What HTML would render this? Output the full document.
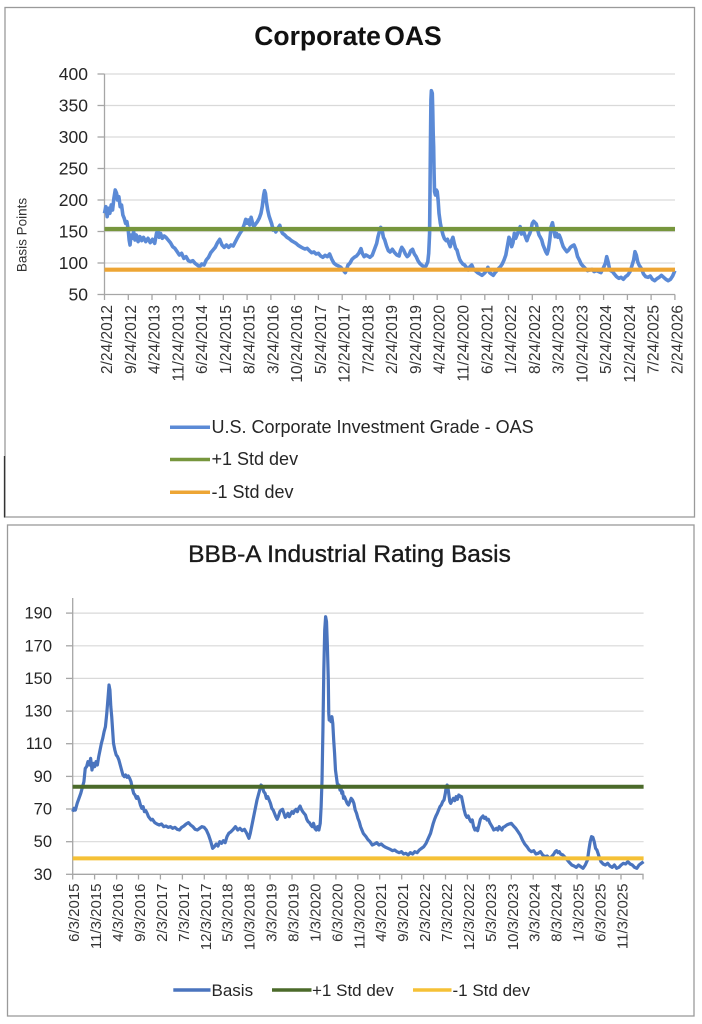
<!DOCTYPE html>
<html>
<head>
<meta charset="utf-8">
<style>
html,body{margin:0;padding:0;background:#fff;}
svg{display:block;}
text{font-family:"Liberation Sans",Arial,sans-serif;}
</style>
</head>
<body>
<svg width="702" height="1024" viewBox="0 0 702 1024" xmlns="http://www.w3.org/2000/svg">
<rect width="702" height="1024" fill="#fff"/>

<!-- ============ CHART 1 ============ -->
<rect x="5" y="7.5" width="689.5" height="509.5" fill="#fff" stroke="#9a9a9a" stroke-width="1.3"/>
<line x1="4.5" y1="456" x2="4.5" y2="517.5" stroke="#333" stroke-width="1.3"/>

<text x="348" y="45" text-anchor="middle" font-size="26.5" font-weight="bold" fill="#111" word-spacing="-4">Corporate OAS</text>

<!-- gridlines -->
<g stroke="#d9d9d9" stroke-width="1.2">
<line x1="104.5" y1="74" x2="675" y2="74"/>
<line x1="104.5" y1="105.5" x2="675" y2="105.5"/>
<line x1="104.5" y1="137" x2="675" y2="137"/>
<line x1="104.5" y1="168.5" x2="675" y2="168.5"/>
<line x1="104.5" y1="200" x2="675" y2="200"/>
<line x1="104.5" y1="231.5" x2="675" y2="231.5"/>
<line x1="104.5" y1="263" x2="675" y2="263"/>
</g>
<!-- axes -->
<g stroke="#a6a6a6" stroke-width="1.3">
<line x1="104.5" y1="74" x2="104.5" y2="294.5"/>
<line x1="104.5" y1="294.5" x2="675" y2="294.5"/>
<line x1="97.5" y1="74" x2="104.5" y2="74"/>
<line x1="97.5" y1="105.5" x2="104.5" y2="105.5"/>
<line x1="97.5" y1="137" x2="104.5" y2="137"/>
<line x1="97.5" y1="168.5" x2="104.5" y2="168.5"/>
<line x1="97.5" y1="200" x2="104.5" y2="200"/>
<line x1="97.5" y1="231.5" x2="104.5" y2="231.5"/>
<line x1="97.5" y1="263" x2="104.5" y2="263"/>
<line x1="97.5" y1="294.5" x2="104.5" y2="294.5"/>
<line x1="104.5" y1="294.5" x2="104.5" y2="300"/>
<line x1="128.3" y1="294.5" x2="128.3" y2="300"/>
<line x1="152.0" y1="294.5" x2="152.0" y2="300"/>
<line x1="175.8" y1="294.5" x2="175.8" y2="300"/>
<line x1="199.6" y1="294.5" x2="199.6" y2="300"/>
<line x1="223.3" y1="294.5" x2="223.3" y2="300"/>
<line x1="247.1" y1="294.5" x2="247.1" y2="300"/>
<line x1="270.9" y1="294.5" x2="270.9" y2="300"/>
<line x1="294.6" y1="294.5" x2="294.6" y2="300"/>
<line x1="318.4" y1="294.5" x2="318.4" y2="300"/>
<line x1="342.2" y1="294.5" x2="342.2" y2="300"/>
<line x1="365.9" y1="294.5" x2="365.9" y2="300"/>
<line x1="389.7" y1="294.5" x2="389.7" y2="300"/>
<line x1="413.5" y1="294.5" x2="413.5" y2="300"/>
<line x1="437.2" y1="294.5" x2="437.2" y2="300"/>
<line x1="461.0" y1="294.5" x2="461.0" y2="300"/>
<line x1="484.8" y1="294.5" x2="484.8" y2="300"/>
<line x1="508.5" y1="294.5" x2="508.5" y2="300"/>
<line x1="532.3" y1="294.5" x2="532.3" y2="300"/>
<line x1="556.1" y1="294.5" x2="556.1" y2="300"/>
<line x1="579.8" y1="294.5" x2="579.8" y2="300"/>
<line x1="603.6" y1="294.5" x2="603.6" y2="300"/>
<line x1="627.4" y1="294.5" x2="627.4" y2="300"/>
<line x1="651.1" y1="294.5" x2="651.1" y2="300"/>
<line x1="674.9" y1="294.5" x2="674.9" y2="300"/>
</g>

<!-- y labels -->
<g font-size="17.5" fill="#262626" text-anchor="end">
<text x="88" y="80">400</text>
<text x="88" y="111.5">350</text>
<text x="88" y="143">300</text>
<text x="88" y="174.5">250</text>
<text x="88" y="206">200</text>
<text x="88" y="237.5">150</text>
<text x="88" y="269">100</text>
<text x="88" y="300.5">50</text>
</g>
<text transform="translate(26.5,235) rotate(-90)" text-anchor="middle" font-size="13.5" fill="#333">Basis Points</text>

<!-- x labels -->
<g font-size="15.5" fill="#333" text-anchor="end">
<text transform="translate(112,305) rotate(-90)">2/24/2012</text>
<text transform="translate(135.8,305) rotate(-90)">9/24/2012</text>
<text transform="translate(159.5,305) rotate(-90)">4/24/2013</text>
<text transform="translate(183.3,305) rotate(-90)">11/24/2013</text>
<text transform="translate(207.1,305) rotate(-90)">6/24/2014</text>
<text transform="translate(230.8,305) rotate(-90)">1/24/2015</text>
<text transform="translate(254.6,305) rotate(-90)">8/24/2015</text>
<text transform="translate(278.4,305) rotate(-90)">3/24/2016</text>
<text transform="translate(302.1,305) rotate(-90)">10/24/2016</text>
<text transform="translate(325.9,305) rotate(-90)">5/24/2017</text>
<text transform="translate(349.7,305) rotate(-90)">12/24/2017</text>
<text transform="translate(373.4,305) rotate(-90)">7/24/2018</text>
<text transform="translate(397.2,305) rotate(-90)">2/24/2019</text>
<text transform="translate(421.0,305) rotate(-90)">9/24/2019</text>
<text transform="translate(444.7,305) rotate(-90)">4/24/2020</text>
<text transform="translate(468.5,305) rotate(-90)">11/24/2020</text>
<text transform="translate(492.3,305) rotate(-90)">6/24/2021</text>
<text transform="translate(516.0,305) rotate(-90)">1/24/2022</text>
<text transform="translate(539.8,305) rotate(-90)">8/24/2022</text>
<text transform="translate(563.6,305) rotate(-90)">3/24/2023</text>
<text transform="translate(587.3,305) rotate(-90)">10/24/2023</text>
<text transform="translate(611.1,305) rotate(-90)">5/24/2024</text>
<text transform="translate(634.9,305) rotate(-90)">12/24/2024</text>
<text transform="translate(658.6,305) rotate(-90)">7/24/2025</text>
<text transform="translate(682.4,305) rotate(-90)">2/24/2026</text>
</g>

<!-- series 1 -->
<g transform="scale(0.44843,0.33333)">
<polyline fill="none" stroke="#5b8ad6" stroke-width="3.6" vector-effect="non-scaling-stroke" stroke-linejoin="round" points="233,640 236,620 239,650 242,625 245,640 248,615 251,630 254,595 257,570 260,580 262,600 265,590 268,620 271,615 274,645 277,655 280,670 283,665 286,690 288,720 290,735 292,705 295,715 298,695 301,720 304,705 308,725 312,710 316,722 320,712 325,725 330,715 335,728 340,718 345,730 349,700 352,690 355,712 358,700 362,715 366,708 370,712 375,720 380,728 385,740 390,745 395,755 400,765 405,760 410,775 415,770 420,782 425,785 430,782 435,790 440,795 445,800 450,792 455,795 460,780 465,772 470,758 475,750 480,742 485,728 490,718 495,735 500,742 505,735 510,742 515,735 520,738 525,725 530,712 535,700 540,690 545,672 548,658 551,670 554,660 557,675 560,652 563,668 566,680 570,672 574,665 578,655 582,640 585,618 588,585 590,572 592,580 594,605 597,630 600,648 603,660 606,672 609,690 612,686 615,696 618,688 621,682 624,676 627,692 630,700 635,705 640,712 645,716 650,722 655,726 660,730 665,736 670,740 675,744 680,747 685,745 690,752 695,758 700,756 705,762 710,760 715,768 720,772 725,766 730,770 735,762 740,778 745,790 750,795 755,798 760,802 765,810 770,818 773,808 776,795 780,790 785,778 790,772 795,768 800,760 805,746 808,760 812,770 816,765 820,768 825,772 830,766 835,748 840,730 843,710 846,695 849,682 852,690 855,712 858,720 862,738 866,752 870,756 875,748 880,758 885,765 890,768 893,752 896,742 900,750 904,762 908,770 912,765 916,752 920,748 924,762 928,770 932,782 936,790 940,795 945,800 950,798 954,785 956,760 958,700 959,560 960,420 961,300 962,272 964,280 965,330 966,400 967,440 968,520 969,575 971,585 973,570 975,575 977,600 979,640 982,670 985,690 988,705 991,716 995,722 998,718 1001,730 1004,740 1007,722 1010,712 1013,730 1016,745 1019,750 1022,765 1025,778 1028,785 1032,792 1036,795 1040,802 1044,810 1048,800 1052,795 1056,808 1060,812 1065,818 1070,822 1075,826 1080,820 1085,812 1088,802 1092,818 1096,822 1100,826 1104,818 1108,812 1112,805 1116,800 1120,792 1124,780 1128,765 1132,735 1135,712 1138,720 1141,740 1144,728 1147,700 1150,715 1153,705 1157,690 1160,680 1163,702 1166,690 1169,700 1172,712 1175,722 1178,710 1181,702 1184,690 1187,670 1190,664 1193,668 1196,672 1199,690 1202,705 1205,712 1208,720 1211,735 1214,745 1217,755 1220,762 1223,748 1226,720 1229,680 1232,668 1235,690 1238,710 1241,700 1244,712 1247,705 1250,715 1253,728 1256,740 1260,748 1264,755 1268,750 1272,742 1276,738 1280,735 1284,748 1288,770 1292,780 1296,792 1300,798 1305,805 1310,812 1315,810 1320,808 1325,815 1330,812 1335,815 1340,818 1345,805 1350,790 1353,770 1356,785 1359,805 1362,812 1366,815 1370,822 1375,830 1380,835 1385,832 1390,838 1395,830 1400,825 1405,815 1409,798 1413,780 1416,755 1419,765 1422,785 1425,795 1430,805 1435,822 1440,830 1445,832 1450,828 1455,838 1460,842 1465,836 1470,832 1475,826 1480,832 1485,838 1490,842 1495,838 1500,828 1505,812"/>
</g>
<line x1="104.5" y1="229" x2="675" y2="229" stroke="#77963d" stroke-width="4.2"/>
<line x1="104.5" y1="269.7" x2="675" y2="269.7" stroke="#eda534" stroke-width="4.2"/>

<!-- legend 1 -->
<line x1="170" y1="427.3" x2="210" y2="427.3" stroke="#5b8ad6" stroke-width="3.5"/>
<line x1="170" y1="459.5" x2="210" y2="459.5" stroke="#77963d" stroke-width="3.5"/>
<line x1="170" y1="492.3" x2="210" y2="492.3" stroke="#eda534" stroke-width="3.5"/>
<g font-size="18" fill="#262626">
<text x="211.5" y="432.8">U.S. Corporate Investment Grade - OAS</text>
<text x="211.5" y="465">+1 Std dev</text>
<text x="211.5" y="497.8">-1 Std dev</text>
</g>

<!-- ============ CHART 2 ============ -->
<rect x="7.5" y="525" width="686.5" height="491" fill="#fff" stroke="#9a9a9a" stroke-width="1.3"/>

<text x="349.5" y="562" text-anchor="middle" font-size="24.5" fill="#1a1a1a" stroke="#1a1a1a" stroke-width="0.35">BBB-A Industrial Rating Basis</text>

<g stroke="#d9d9d9" stroke-width="1.2">
<line x1="72.7" y1="613.1" x2="643.6" y2="613.1"/>
<line x1="72.7" y1="645.8" x2="643.6" y2="645.8"/>
<line x1="72.7" y1="678.4" x2="643.6" y2="678.4"/>
<line x1="72.7" y1="711.1" x2="643.6" y2="711.1"/>
<line x1="72.7" y1="743.7" x2="643.6" y2="743.7"/>
<line x1="72.7" y1="776.4" x2="643.6" y2="776.4"/>
<line x1="72.7" y1="809.0" x2="643.6" y2="809.0"/>
<line x1="72.7" y1="841.7" x2="643.6" y2="841.7"/>
</g>
<g stroke="#a6a6a6" stroke-width="1.3">
<line x1="72.7" y1="598" x2="72.7" y2="874.3"/>
<line x1="72.7" y1="874.3" x2="643.6" y2="874.3"/>
<line x1="66" y1="613.1" x2="72.7" y2="613.1"/>
<line x1="66" y1="645.8" x2="72.7" y2="645.8"/>
<line x1="66" y1="678.4" x2="72.7" y2="678.4"/>
<line x1="66" y1="711.1" x2="72.7" y2="711.1"/>
<line x1="66" y1="743.7" x2="72.7" y2="743.7"/>
<line x1="66" y1="776.4" x2="72.7" y2="776.4"/>
<line x1="66" y1="809.0" x2="72.7" y2="809.0"/>
<line x1="66" y1="841.7" x2="72.7" y2="841.7"/>
<line x1="66" y1="874.3" x2="72.7" y2="874.3"/>
<line x1="72.7" y1="874.3" x2="72.7" y2="879.5"/>
<line x1="94.6" y1="874.3" x2="94.6" y2="879.5"/>
<line x1="116.6" y1="874.3" x2="116.6" y2="879.5"/>
<line x1="138.5" y1="874.3" x2="138.5" y2="879.5"/>
<line x1="160.4" y1="874.3" x2="160.4" y2="879.5"/>
<line x1="182.4" y1="874.3" x2="182.4" y2="879.5"/>
<line x1="204.3" y1="874.3" x2="204.3" y2="879.5"/>
<line x1="226.2" y1="874.3" x2="226.2" y2="879.5"/>
<line x1="248.1" y1="874.3" x2="248.1" y2="879.5"/>
<line x1="270.1" y1="874.3" x2="270.1" y2="879.5"/>
<line x1="292.0" y1="874.3" x2="292.0" y2="879.5"/>
<line x1="313.9" y1="874.3" x2="313.9" y2="879.5"/>
<line x1="335.9" y1="874.3" x2="335.9" y2="879.5"/>
<line x1="357.8" y1="874.3" x2="357.8" y2="879.5"/>
<line x1="379.7" y1="874.3" x2="379.7" y2="879.5"/>
<line x1="401.7" y1="874.3" x2="401.7" y2="879.5"/>
<line x1="423.6" y1="874.3" x2="423.6" y2="879.5"/>
<line x1="445.5" y1="874.3" x2="445.5" y2="879.5"/>
<line x1="467.4" y1="874.3" x2="467.4" y2="879.5"/>
<line x1="489.4" y1="874.3" x2="489.4" y2="879.5"/>
<line x1="511.3" y1="874.3" x2="511.3" y2="879.5"/>
<line x1="533.2" y1="874.3" x2="533.2" y2="879.5"/>
<line x1="555.2" y1="874.3" x2="555.2" y2="879.5"/>
<line x1="577.1" y1="874.3" x2="577.1" y2="879.5"/>
<line x1="599.0" y1="874.3" x2="599.0" y2="879.5"/>
<line x1="621.0" y1="874.3" x2="621.0" y2="879.5"/>
<line x1="643.0" y1="874.3" x2="643.0" y2="879.5"/>
</g>

<g font-size="16.5" fill="#262626" text-anchor="end">
<text x="52" y="618.6">190</text>
<text x="52" y="651.3">170</text>
<text x="52" y="683.9">150</text>
<text x="52" y="716.6">130</text>
<text x="52" y="749.2">110</text>
<text x="52" y="781.9">90</text>
<text x="52" y="814.5">70</text>
<text x="52" y="847.2">50</text>
<text x="52" y="879.8">30</text>
</g>

<g font-size="15" fill="#333" text-anchor="end">
<text transform="translate(79.2,883.5) rotate(-90)">6/3/2015</text>
<text transform="translate(101.1,883.5) rotate(-90)">11/3/2015</text>
<text transform="translate(123.1,883.5) rotate(-90)">4/3/2016</text>
<text transform="translate(145.0,883.5) rotate(-90)">9/3/2016</text>
<text transform="translate(166.9,883.5) rotate(-90)">2/3/2017</text>
<text transform="translate(188.9,883.5) rotate(-90)">7/3/2017</text>
<text transform="translate(210.8,883.5) rotate(-90)">12/3/2017</text>
<text transform="translate(232.7,883.5) rotate(-90)">5/3/2018</text>
<text transform="translate(254.6,883.5) rotate(-90)">10/3/2018</text>
<text transform="translate(276.6,883.5) rotate(-90)">3/3/2019</text>
<text transform="translate(298.5,883.5) rotate(-90)">8/3/2019</text>
<text transform="translate(320.4,883.5) rotate(-90)">1/3/2020</text>
<text transform="translate(342.4,883.5) rotate(-90)">6/3/2020</text>
<text transform="translate(364.3,883.5) rotate(-90)">11/3/2020</text>
<text transform="translate(386.2,883.5) rotate(-90)">4/3/2021</text>
<text transform="translate(408.2,883.5) rotate(-90)">9/3/2021</text>
<text transform="translate(430.1,883.5) rotate(-90)">2/3/2022</text>
<text transform="translate(452.0,883.5) rotate(-90)">7/3/2022</text>
<text transform="translate(473.9,883.5) rotate(-90)">12/3/2022</text>
<text transform="translate(495.9,883.5) rotate(-90)">5/3/2023</text>
<text transform="translate(517.8,883.5) rotate(-90)">10/3/2023</text>
<text transform="translate(539.7,883.5) rotate(-90)">3/3/2024</text>
<text transform="translate(561.7,883.5) rotate(-90)">8/3/2024</text>
<text transform="translate(583.6,883.5) rotate(-90)">1/3/2025</text>
<text transform="translate(605.5,883.5) rotate(-90)">6/3/2025</text>
<text transform="translate(627.5,883.5) rotate(-90)">11/3/2025</text>
</g>

<!-- series 2 -->
<g transform="translate(0.054,780) scale(0.44843,0.33333)">
<polyline fill="none" stroke="#4a74be" stroke-width="3.2" vector-effect="non-scaling-stroke" stroke-linejoin="round" points="162,95 165,85 168,90 172,70 176,55 180,40 184,20 187,5 190,-35 193,-40 196,-55 199,-45 202,-65 205,-30 208,-50 211,-40 214,-55 217,-45 220,-70 223,-90 226,-110 229,-125 232,-145 235,-160 238,-200 241,-250 243,-285 245,-270 247,-220 249,-190 251,-150 253,-110 256,-90 259,-75 262,-70 265,-60 268,-45 271,-30 274,-15 277,-10 280,-15 283,-8 286,-12 289,-5 292,5 295,25 298,40 301,45 304,55 307,50 310,60 313,75 316,85 319,80 322,95 325,92 328,100 331,110 334,115 337,120 340,118 345,128 350,132 355,135 360,132 365,140 370,138 375,142 380,140 385,145 390,142 395,148 400,150 405,142 410,138 415,132 420,128 425,135 430,140 435,148 440,150 445,145 450,140 455,142 460,150 465,165 470,185 474,205 478,200 482,192 486,198 490,185 494,190 498,182 502,188 506,170 510,160 515,155 520,148 525,140 530,150 535,145 540,152 545,148 550,160 555,175 558,160 561,140 564,120 567,100 570,80 573,60 576,45 579,30 582,15 585,20 588,35 591,40 594,55 597,50 600,60 603,70 606,85 609,90 612,100 615,110 618,118 621,108 624,95 627,90 630,88 633,100 636,112 639,108 642,100 645,110 648,102 651,95 654,100 657,92 660,88 663,95 666,85 669,78 672,88 675,95 678,100 681,105 684,118 687,125 690,128 693,135 696,140 699,130 702,145 705,150 708,140 711,150 714,130 716,80 718,0 720,-150 722,-330 724,-450 726,-490 728,-475 730,-400 731,-350 732,-300 733,-200 734,-180 736,-185 738,-175 740,-190 742,-170 744,-120 746,-80 748,-30 750,-10 752,10 754,20 756,15 758,30 760,20 762,40 764,35 766,55 768,50 771,60 774,70 777,75 780,65 783,55 786,60 789,70 792,90 795,100 798,115 801,125 804,140 807,150 810,160 813,165 816,170 820,178 825,185 830,195 835,192 840,188 845,195 850,192 855,198 860,202 865,205 870,208 875,212 880,210 885,215 890,218 895,215 900,222 905,220 910,225 915,218 920,222 925,215 930,218 935,210 940,205 945,200 950,190 955,175 960,160 963,145 966,130 969,118 972,108 975,100 978,90 981,80 984,75 987,65 990,60 993,40 995,20 997,15 999,25 1001,45 1003,65 1005,70 1008,62 1011,55 1014,62 1017,50 1020,58 1023,45 1026,48 1029,50 1032,70 1035,90 1038,105 1041,112 1044,108 1047,118 1050,125 1053,120 1056,140 1059,150 1062,145 1065,152 1068,135 1071,118 1074,112 1077,108 1080,115 1083,112 1086,120 1089,118 1092,128 1095,135 1098,142 1101,150 1104,148 1107,145 1110,150 1113,140 1116,145 1119,150 1122,142 1125,140 1130,135 1135,132 1140,130 1145,138 1150,145 1155,155 1160,165 1165,180 1170,192 1175,200 1180,210 1185,215 1190,212 1195,222 1200,220 1205,215 1210,225 1215,230 1220,228 1225,235 1230,230 1235,222 1238,215 1241,212 1244,218 1247,215 1250,222 1255,225 1260,232 1265,240 1270,248 1275,255 1280,258 1285,262 1290,255 1295,260 1300,265 1305,255 1310,240 1313,210 1316,185 1319,170 1322,172 1325,185 1328,205 1331,210 1334,222 1337,235 1340,245 1345,252 1350,255 1355,250 1360,258 1365,262 1370,255 1375,265 1380,262 1385,255 1390,250 1395,252 1400,245 1405,252 1410,255 1415,262 1420,265 1425,255 1430,250 1435,245"/>
</g>
<line x1="72.7" y1="786.8" x2="643.6" y2="786.8" stroke="#4b6a2a" stroke-width="4"/>
<line x1="72.7" y1="858.4" x2="643.6" y2="858.4" stroke="#f5c136" stroke-width="4"/>

<!-- legend 2 -->
<line x1="173.3" y1="990" x2="210.5" y2="990" stroke="#4a74be" stroke-width="3.5"/>
<line x1="272" y1="990" x2="311.5" y2="990" stroke="#4b6a2a" stroke-width="3.5"/>
<line x1="413" y1="990" x2="451.5" y2="990" stroke="#f5c136" stroke-width="3.5"/>
<g font-size="17" fill="#262626">
<text x="211.5" y="996">Basis</text>
<text x="312" y="996">+1 Std dev</text>
<text x="452.5" y="996">-1 Std dev</text>
</g>
</svg>
</body>
</html>
